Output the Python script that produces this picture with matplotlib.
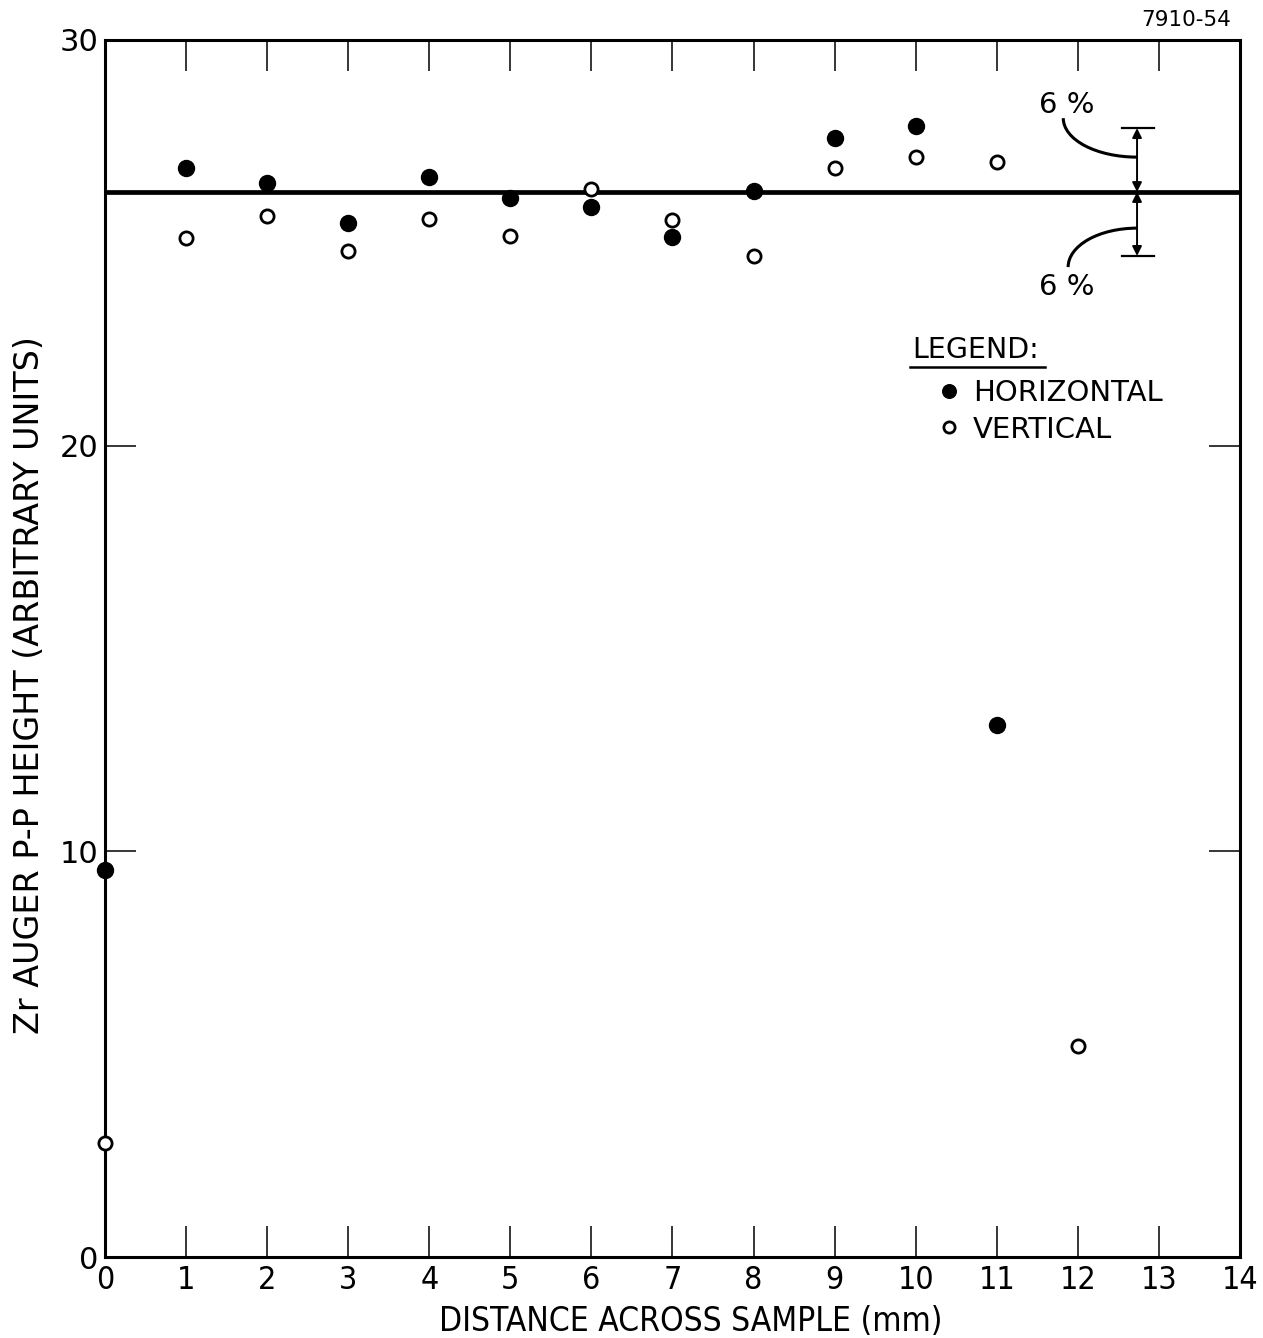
import matplotlib.pyplot as plt
from matplotlib.patches import Arc
from matplotlib.lines import Line2D

# Zr Auger peak-to-peak height across the sample
positions_h = [0, 1, 2, 3, 4, 5, 6, 7, 8, 9, 10, 11]
horizontal = [9.54, 26.84, 26.47, 25.49, 26.62, 26.10, 25.88, 25.14, 26.28, 27.58, 27.88, 13.11]

positions_v = [0, 1, 2, 3, 4, 5, 6, 7, 8, 9, 10, 11, 12]
vertical = [2.81, 25.12, 25.66, 24.80, 25.59, 25.17, 26.32, 25.56, 24.67, 26.84, 27.11, 26.99, 5.20]

baseline = 26.25
band = 0.06

x_ticks = list(range(0, 15))
y_ticks = [0, 10, 20, 30]

fig = plt.figure(figsize=(12.63, 13.38), dpi=100)
ax = fig.add_axes([0.0831, 0.0605, 0.8987, 0.9097])

ax.set_xlim(0, 14)
ax.set_ylim(0, 30)

for s in ax.spines.values():
    s.set_linewidth(2.2)

ax.set_xticks(x_ticks)
ax.set_yticks(y_ticks)
ax.tick_params(axis='x', which='both', direction='in', length=22, width=1.1,
               top=True, labelsize=23, pad=6)
ax.tick_params(axis='y', which='both', direction='in', length=22, width=1.1,
               right=True, labelsize=22, pad=5)
for lab in ax.get_xticklabels():
    lab.set_fontstretch('condensed')

# mean level
ax.axhline(baseline, color='black', lw=3.4, zorder=2)

ax.plot(positions_h, horizontal, 'o', ms=11.5, color='black', mec='black',
        clip_on=False, zorder=4, label='HORIZONTAL')
ax.plot(positions_v, vertical, 'o', ms=9.5, mfc='white', mec='black', mew=2.0,
        clip_on=False, zorder=4, label='VERTICAL')

# +/- 6% band markers
xb = 12.73
hi = baseline * (1 + band)
lo = baseline * (1 - band)
for yy in (hi, lo):
    ax.plot([xb - 0.19, xb + 0.21], [yy, yy], color='black', lw=1.6)
ax.annotate('', xy=(xb, hi), xytext=(xb, baseline),
            arrowprops=dict(arrowstyle='<|-|>', color='black', lw=1.4,
                            mutation_scale=14, shrinkA=0, shrinkB=0))
ax.annotate('', xy=(xb, lo), xytext=(xb, baseline),
            arrowprops=dict(arrowstyle='<|-|>', color='black', lw=1.4,
                            mutation_scale=14, shrinkA=0, shrinkB=0))

ax.add_patch(Arc((xb, 28.07), 2 * 0.91, 2 * 0.96, theta1=180, theta2=270,
                 color='black', lw=2.2))
ax.add_patch(Arc((xb, 24.40), 2 * 0.85, 2 * 0.96, theta1=90, theta2=180,
                 color='black', lw=2.2))
ax.text(11.86, 28.40, '6 %', fontsize=21, ha='center', va='center')
ax.text(11.86, 23.90, '6 %', fontsize=21, ha='center', va='center')

# legend block
ax.text(0.711, 0.745, 'LEGEND:', transform=ax.transAxes, fontsize=20.5,
        ha='left', va='center')
ax.add_line(Line2D([0.709, 0.828], [0.731, 0.731], transform=ax.transAxes,
                   color='black', lw=1.8))
ax.legend(loc='upper left', bbox_to_anchor=(0.7376, 0.7215), frameon=False,
          fontsize=21, handlelength=0.5, handletextpad=0.55, labelspacing=0.3,
          borderaxespad=0, borderpad=0, markerscale=0.85)

ax.set_xlabel('DISTANCE ACROSS SAMPLE (mm)', fontsize=24,
              fontstretch='condensed')
ax.xaxis.set_label_coords(0.516, -0.039)
ax.set_ylabel('Zr AUGER P-P HEIGHT (ARBITRARY UNITS)', fontsize=24)
ax.yaxis.set_label_coords(-0.052, 0.47)

fig.text(0.975, 0.985, '7910-54', fontsize=15.5, ha='right', va='center')

fig.savefig('out.png', dpi=100)
